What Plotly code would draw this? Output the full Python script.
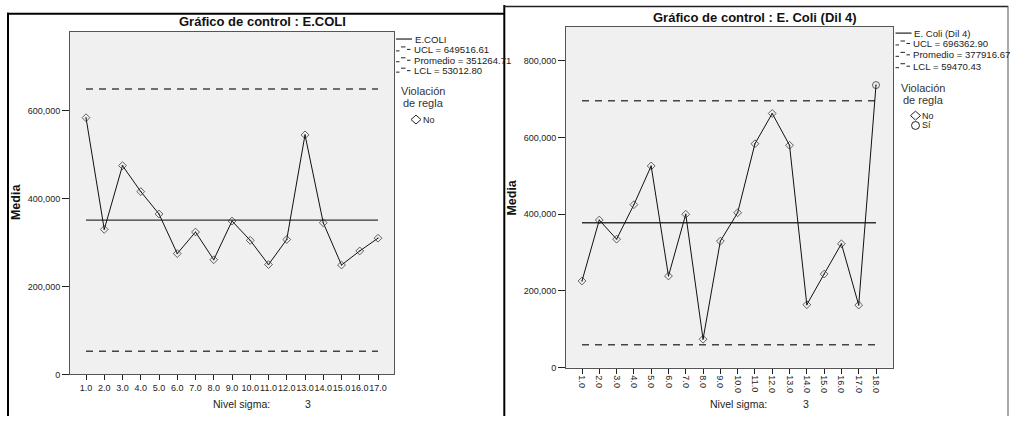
import plotly.graph_objects as go

W, H = 1011, 421

# ---------------- data ----------------
samples_1 = [1.0, 2.0, 3.0, 4.0, 5.0, 6.0, 7.0, 8.0, 9.0, 10.0, 11.0, 12.0, 13.0, 14.0, 15.0, 16.0, 17.0]
ecoli = [584000, 330000, 475000, 416000, 365000, 275000, 324000, 261000, 349000,
         305000, 250000, 307000, 545000, 345000, 249000, 281000, 310000]
violation_1 = ["No"] * 17
ucl_1, mean_1, lcl_1 = 649516.61, 351264.71, 53012.80
name_1 = "E.COLI"
title_1 = "Gráfico de control : E.COLI"

samples_2 = [1.0, 2.0, 3.0, 4.0, 5.0, 6.0, 7.0, 8.0, 9.0, 10.0, 11.0, 12.0, 13.0, 14.0, 15.0, 16.0, 17.0, 18.0]
dil4 = [226000, 385000, 335000, 425000, 526000, 239000, 400000, 74000, 330000,
        404000, 584000, 663000, 580000, 164000, 244000, 323000, 163000, 737000]
violation_2 = ["No"] * 17 + ["Sí"]
ucl_2, mean_2, lcl_2 = 696362.90, 377916.67, 59470.43
name_2 = "E. Coli (Dil 4)"
title_2 = "Gráfico de control : E. Coli (Dil 4)"

sigma_level = 3

# ---------------- helpers ----------------
FONT = "Liberation Sans, Arial, sans-serif"


def px(x):
    return x / W


def py(y):
    return 1 - y / H


symbol_map = {"No": "diamond-open-dot", "Sí": "circle-open-dot"}
size_map = {"No": 6, "Sí": 7}

fig = go.Figure()


def add_chart(xs, ys, viol, ucl, mean, lcl, xa, ya):
    dash_style = dict(color="#444", width=1.5, dash="7px,6px")
    fig.add_trace(go.Scatter(x=[xs[0], xs[-1]], y=[ucl, ucl], mode="lines",
                             line=dash_style, xaxis=xa, yaxis=ya, showlegend=False))
    fig.add_trace(go.Scatter(x=[xs[0], xs[-1]], y=[lcl, lcl], mode="lines",
                             line=dash_style, xaxis=xa, yaxis=ya, showlegend=False))
    fig.add_trace(go.Scatter(x=[xs[0], xs[-1]], y=[mean, mean], mode="lines",
                             line=dict(color="#333", width=1.3), xaxis=xa, yaxis=ya,
                             showlegend=False))
    fig.add_trace(go.Scatter(x=xs, y=ys, mode="lines+markers",
                             line=dict(color="#111", width=1),
                             marker=dict(symbol=[symbol_map[v] for v in viol],
                                         size=[size_map[v] for v in viol],
                                         color="#222", line=dict(width=1)),
                             xaxis=xa, yaxis=ya, showlegend=False))


add_chart(samples_1, ecoli, violation_1, ucl_1, mean_1, lcl_1, "x", "y")
add_chart(samples_2, dil4, violation_2, ucl_2, mean_2, lcl_2, "x2", "y2")

axis_common = dict(showline=True, linecolor="#555", linewidth=1, mirror=True,
                   showgrid=False, zeroline=False, ticks="outside", tickcolor="#222",
                   tickwidth=1, tickfont=dict(family=FONT, size=9, color="#222"))

fig.update_layout(
    width=W, height=H, autosize=False,
    margin=dict(l=0, r=0, t=0, b=0),
    paper_bgcolor="white",
    plot_bgcolor="#f0f0f0",
    showlegend=False,
    xaxis=dict(domain=[px(70), px(394)], range=[0.123, 17.877], tick0=1, dtick=1,
               tickformat=".1f", ticklen=5, tickangle=0, anchor="y", **axis_common),
    yaxis=dict(domain=[py(379), py(32)], range=[0, 779800], tick0=0, dtick=200000,
               tickformat=",d", ticklen=7, anchor="x", **axis_common),
    xaxis2=dict(domain=[px(566), px(893)], range=[0.075, 18.983], tick0=1, dtick=1,
                tickformat=".1f", ticklen=5, tickangle=90, anchor="y2", **axis_common),
    yaxis2=dict(domain=[py(372), py(27)], range=[0, 889400], tick0=0, dtick=200000,
                tickformat=",d", ticklen=7, anchor="x2", **axis_common),
)

shapes = []
annotations = []


def line(x0, y0, x1, y1, color="#000", width=1):
    shapes.append(dict(type="line", xref="paper", yref="paper",
                       x0=px(x0), y0=py(y0), x1=px(x1), y1=py(y1),
                       line=dict(color=color, width=width)))


def text(x, y, s, size=9.6, bold=False, xanchor="left", color="#222", angle=0):
    annotations.append(dict(xref="paper", yref="paper", x=px(x), y=py(y),
                            text=("<b>%s</b>" % s) if bold else s, showarrow=False,
                            xanchor=xanchor, yanchor="middle", textangle=angle,
                            font=dict(family=FONT, size=size, color=color)))


# frames of the two screenshots
line(7, 14, 504, 14, "#000", 2)
line(8, 13, 8, H, "#000", 2)
line(504.3, 5, 504.3, H, "#000", 2)
line(504, 6.5, 1008, 6.5, "#222", 1.5)
line(1008, 6, 1008, H, "#555", 1)

# titles, axis labels, sigma level
text(262, 22, title_1, size=13, bold=True, xanchor="center", color="#111")
text(755, 17.5, title_2, size=13, bold=True, xanchor="center", color="#111")
text(15.5, 205, "Media", size=12.5, bold=True, xanchor="center", color="#111", angle=-90)
text(512, 200, "Media", size=12.5, bold=True, xanchor="center", color="#111", angle=-90)
text(241.5, 409, "Nivel sigma:", size=10.5, xanchor="center")
text(308, 409, str(sigma_level), size=10.5, xanchor="center")
text(738.5, 409, "Nivel sigma:", size=10.5, xanchor="center")
text(806, 409, str(sigma_level), size=10.5, xanchor="center")


def legend(x0, ys, name, ucl, mean, lcl, viol_y, cats, cat_ys):
    # series entry
    line(x0, ys[0], x0 + 16, ys[0], "#222", 1.2)
    text(x0 + 16.5, ys[0], name)
    labels = ["UCL = %.2f" % ucl, "Promedio = %.2f" % mean, "LCL = %.2f" % lcl]
    for y, lab in zip(ys[1:], labels):
        line(x0, y + 1.5, x0 + 3.5, y + 1.5, "#222", 1)
        line(x0 + 5, y - 2.5, x0 + 9.5, y - 2.5, "#222", 1)
        line(x0 + 11, y, x0 + 14.5, y, "#222", 1)
        text(x0 + 15.5, y, lab)
    text(x0 + 3, viol_y, "Violación", size=11, color="#333")
    text(x0 + 5, viol_y + 11.5, "de regla", size=11, color="#333")
    for cat, cy in zip(cats, cat_ys):
        cx = x0 + 20
        if cat == "No":
            path = "M %f %f L %f %f L %f %f L %f %f Z" % (
                px(cx - 5), py(cy), px(cx), py(cy - 4.5), px(cx + 5), py(cy),
                px(cx), py(cy + 4.5))
            shapes.append(dict(type="path", xref="paper", yref="paper", path=path,
                               line=dict(color="#222", width=1)))
        else:
            shapes.append(dict(type="circle", xref="paper", yref="paper",
                               x0=px(cx - 4), y0=py(cy + 4), x1=px(cx + 4), y1=py(cy - 4),
                               line=dict(color="#222", width=1)))
        text(cx + 4.5, cy, cat, size=9)


legend(396, [39.5, 50, 61, 71.5], name_1, ucl_1, mean_1, lcl_1, 92.5,
       ["No"], [121])
legend(895.5, [33.5, 44, 55.5, 67], name_2, ucl_2, mean_2, lcl_2, 89.5,
       ["No", "Sí"], [117, 127])

fig.update_layout(shapes=shapes, annotations=annotations)

fig.write_html("out.html")
